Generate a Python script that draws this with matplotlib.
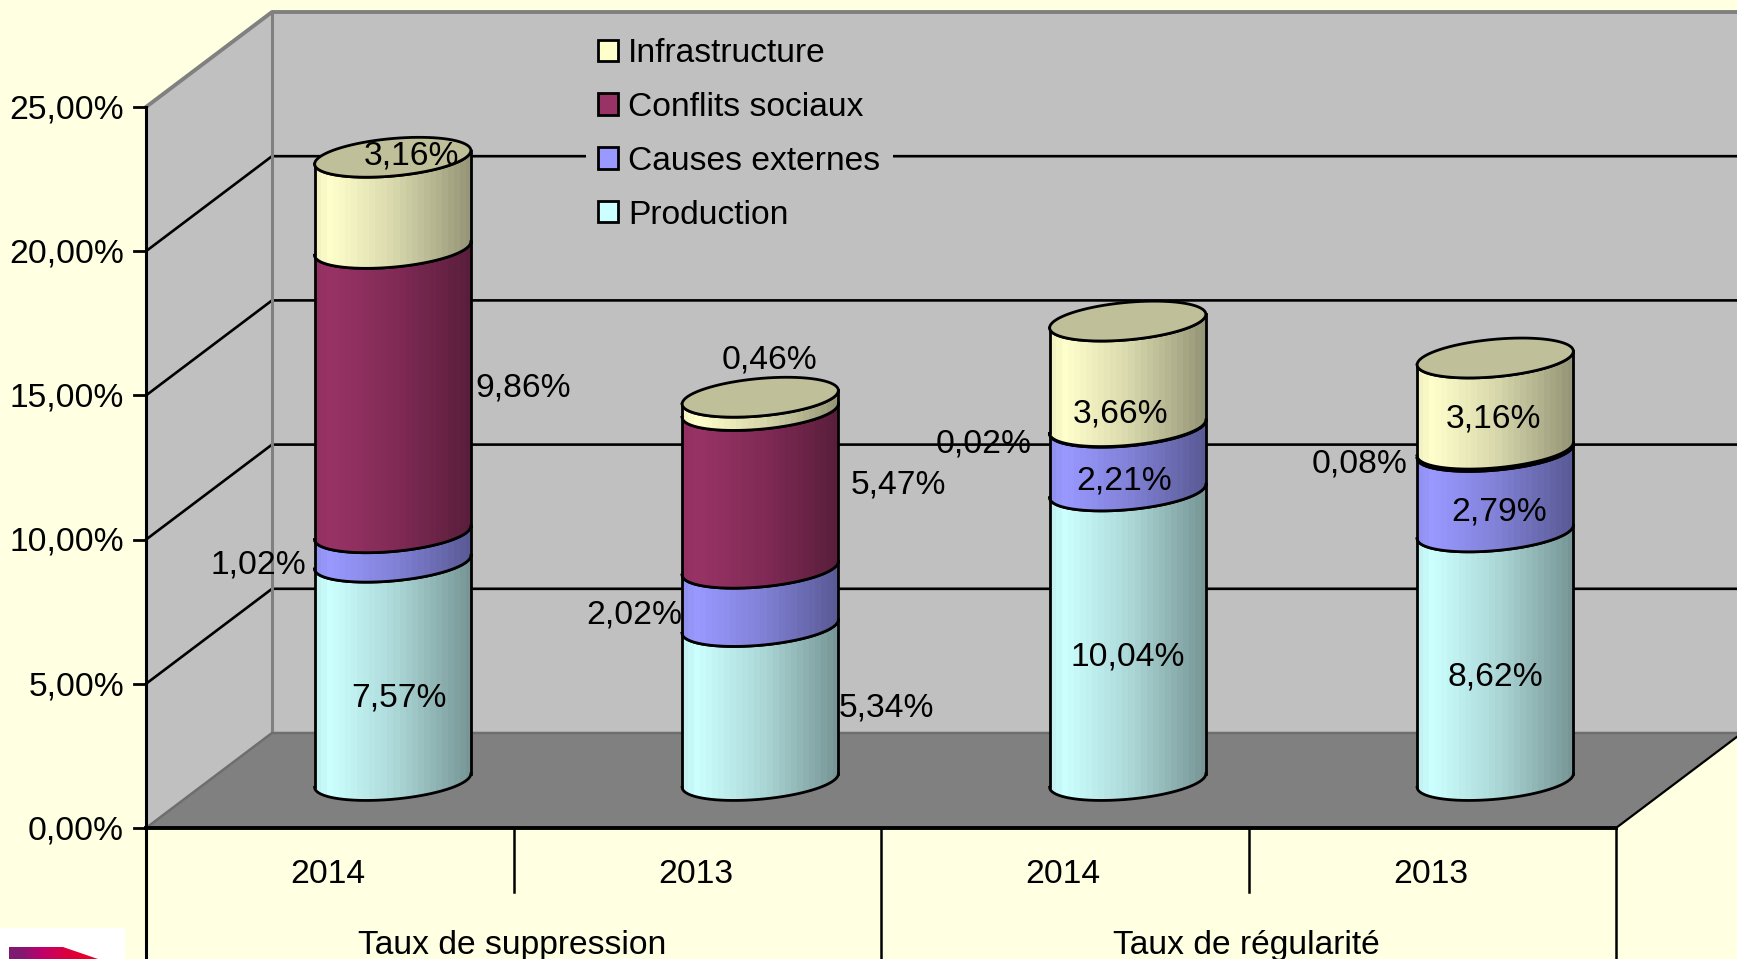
import matplotlib
matplotlib.use("Agg")
import matplotlib.pyplot as plt
import numpy as np
from matplotlib.patches import Patch, Polygon

plt.rcParams['font.family'] = ['Liberation Sans', 'DejaVu Sans']

# Data
years = ['2014', '2013', '2014', '2013']
groups = ['Taux de suppression', 'Taux de régularité']
series = ['Production', 'Causes externes', 'Conflits sociaux', 'Infrastructure']
production = [7.57, 5.34, 10.04, 8.62]
causes_externes = [1.02, 2.02, 2.21, 2.79]
conflits_sociaux = [9.86, 5.47, 0.02, 0.08]
infrastructure = [3.16, 0.46, 3.66, 3.16]
y_ticks = [0, 5, 10, 15, 20, 25]

# Colours
bg = '#FFFFE1'
wall = '#C0C0C0'
floor = '#808080'
colors = ['#CCFFFF', '#9999FF', '#993366', '#FFFFCC']
cap_color = '#BFBF99'

# label offsets from the middle of each segment, in pixels (one row per series)
label_offsets = [
    [(6, -27), (126, -5), (0, -21), (0, -21)],
    [(-134, -18), (-126, -18), (-4, -22), (4, -20)],
    [(130, 3), (138, 4), (-144, -17), (-136, -14)],
    [(19, 47), (9, 44), (-7, -40), (-2, -15)],
]

# Picture layout, pixels
W, H = 1737, 959
x0_px, y0_px = 146, 828
cat_px = 367.5
pct_px = 28.84
font_size = 24.2

fig = plt.figure(figsize=(W / 100, H / 100), dpi=100, facecolor=bg)
ax = fig.add_axes([0, 0, 1, 1])
ax.axis('off')
xlim = (-x0_px / cat_px, (W - x0_px) / cat_px)
ylim = ((y0_px - H) / pct_px, y0_px / pct_px)

# depth of the chart box, in data units
DX = 126 / cat_px
DY = 95 / pct_px
xmax, ymax = 4, 25
R_X, R_Q = 0.2, 0.21


def gradient(color):
    rgb = np.array(matplotlib.colors.to_rgb(color))
    pos = (np.arange(26) + 0.5) / 26
    shade = np.interp(pos, [0, 0.1, 0.5, 1], [0.94, 1, 0.85, 0.58])
    return (shade[None, :, None] * rgb[None, None, :]).clip(0, 1)


def front_arc(cx, level):
    # front half of the round section seen in the oblique projection
    t0 = np.arctan2(R_Q * DX, R_X)
    t = np.linspace(t0 + np.pi, t0 + 2 * np.pi, 40)
    xs = cx + R_X * np.cos(t) + R_Q * DX * np.sin(t)
    ys = level + R_Q * DY * np.sin(t)
    return xs, ys


def full_ring(cx, level):
    t = np.linspace(0, 2 * np.pi, 80)
    return cx + R_X * np.cos(t) + R_Q * DX * np.sin(t), level + R_Q * DY * np.sin(t)


# Walls and floor
ax.add_patch(Polygon([(0, 0), (DX, DY), (DX, ymax + DY), (0, ymax)], fc=wall, ec='none', zorder=1))
ax.add_patch(Polygon([(DX, DY), (xlim[1], DY), (xlim[1], ymax + DY), (DX, ymax + DY)], fc=wall, ec='none', zorder=1))
ax.add_patch(Polygon([(0, 0), (xmax, 0), (xmax + DX, DY), (DX, DY)], fc=floor, ec='none', zorder=2))

# Gridlines on both walls
for v in y_ticks[1:-1]:
    ax.plot([0, DX, xlim[1]], [v, v + DY, v + DY], color='black', lw=1.9, zorder=3)

# Grey frame of the walls
ax.plot([0, DX, xlim[1]], [ymax, ymax + DY, ymax + DY], color=floor, lw=2.8, zorder=3)
ax.plot([DX, DX], [DY, ymax + DY], color=floor, lw=2.2, zorder=3)
ax.plot([0, DX, xlim[1]], [0, DY, DY], color='#6E6E6E', lw=1.8, zorder=3)

# Axes and ticks
ax.plot([0, 0], [ylim[0], ymax], color='black', lw=2.2, zorder=4)
ax.plot([xmax, xmax], [ylim[0], 0], color='black', lw=1.8, zorder=4)
ax.plot([0, xmax], [0, 0], color='black', lw=2.8, zorder=4)
ax.plot([xmax, xmax + DX], [0, DY], color='black', lw=1.6, zorder=4)
for v in y_ticks:
    ax.plot([-12 / cat_px, 0], [v, v], color='black', lw=2.0, zorder=4)
    ax.text(-22 / cat_px, v - 0.1, f'{v:.2f}%'.replace('.', ','), ha='right', va='center',
            fontsize=font_size, zorder=4)

# Category dividers and labels
ax.plot([1, 1], [-64 / pct_px, 0], color='black', lw=1.8, zorder=4)
ax.plot([3, 3], [-64 / pct_px, 0], color='black', lw=1.8, zorder=4)
ax.plot([2, 2], [ylim[0], 0], color='black', lw=1.8, zorder=4)
for i, year in enumerate(years):
    ax.text(i + 0.495, -1.6, year, ha='center', va='center', fontsize=font_size, zorder=4)
for i, group in enumerate(groups):
    ax.text(2 * i + 0.995, -4.06, group, ha='center', va='center', fontsize=font_size, zorder=4)

# Stacked cylinders
stack = [production, causes_externes, conflits_sociaux, infrastructure]
for i in range(len(years)):
    cx = i + 0.5 + DX / 2
    base = DY / 2
    bottom = 0
    for s in range(len(series)):
        value = stack[s][i]
        xb, yb = front_arc(cx, base + bottom)
        xt, yt = front_arc(cx, base + bottom + value)
        outline = np.column_stack([np.r_[xb, xt[::-1]], np.r_[yb, yt[::-1]]])
        clip = Polygon(outline, transform=ax.transData, fc='none', ec='none')
        ax.add_patch(clip)
        im = ax.imshow(gradient(colors[s]), extent=(xb[0], xb[-1], yb.min(), yt.max()),
                       aspect='auto', interpolation='nearest', zorder=5 + s * 0.1)
        im.set_clip_path(clip)
        ax.plot(xb, yb, color='black', lw=2.0, zorder=5.05 + s * 0.1)
        ax.plot(xt, yt, color='black', lw=2.0, zorder=5.05 + s * 0.1)
        ax.plot([xb[0], xb[0]], [yb[0], yt[0]], color='black', lw=2.0, zorder=5.05 + s * 0.1)
        ax.plot([xb[-1], xb[-1]], [yb[-1], yt[-1]], color='black', lw=2.0, zorder=5.05 + s * 0.1)
        bottom += value
    xc, yc = full_ring(cx, base + bottom)
    ax.fill(xc, yc, fc=cap_color, ec='black', lw=2.0, zorder=6)

    # Value labels
    bottom = 0
    for s in range(len(series)):
        value = stack[s][i]
        ax.annotate(f'{value:.2f}%'.replace('.', ','), xy=(cx, base + bottom + value / 2),
                    xytext=label_offsets[s][i], textcoords='offset pixels',
                    ha='center', va='center', fontsize=font_size, zorder=7)
        bottom += value

# Legend
handles = [Patch(fc=colors[s], ec='black', lw=2.0, label=series[s]) for s in range(3, -1, -1)]
ax.legend(handles=handles, loc='upper left', bbox_to_anchor=(586 / W, 1 - 26 / H), fontsize=font_size,
          frameon=True, facecolor=wall, edgecolor='none', framealpha=1, fancybox=False,
          borderpad=0.36, borderaxespad=0, handlelength=0.6, handleheight=0.6,
          handletextpad=0.3, labelspacing=0.68).set_zorder(8)

# Logo corner at the bottom left
logo_left, logo_right = xlim[0], xlim[0] + 125 / cat_px
logo_top = ylim[0] + 31 / pct_px
ax.add_patch(Polygon([(logo_left, ylim[0]), (logo_right, ylim[0]), (logo_right, logo_top), (logo_left, logo_top)],
                     fc='white', ec='none', zorder=4))
logo_shape = Polygon([(xlim[0] + 9 / cat_px, ylim[0]), (xlim[0] + 98 / cat_px, ylim[0]),
                      (xlim[0] + 63 / cat_px, ylim[0] + 12 / pct_px), (xlim[0] + 9 / cat_px, ylim[0] + 12 / pct_px)],
                     transform=ax.transData, fc='none', ec='none')
ax.add_patch(logo_shape)
logo_im = ax.imshow(np.array([[[0.50, 0.10, 0.45], [0.75, 0.0, 0.42], [0.85, 0.0, 0.25], [0.92, 0.0, 0.15]]]),
                    extent=(xlim[0] + 9 / cat_px, xlim[0] + 98 / cat_px, ylim[0], ylim[0] + 12 / pct_px),
                    aspect='auto', interpolation='bilinear', zorder=4.5)
logo_im.set_clip_path(logo_shape)

ax.set_xlim(xlim)
ax.set_ylim(ylim)
fig.savefig('out.png', dpi=100, facecolor=bg)
